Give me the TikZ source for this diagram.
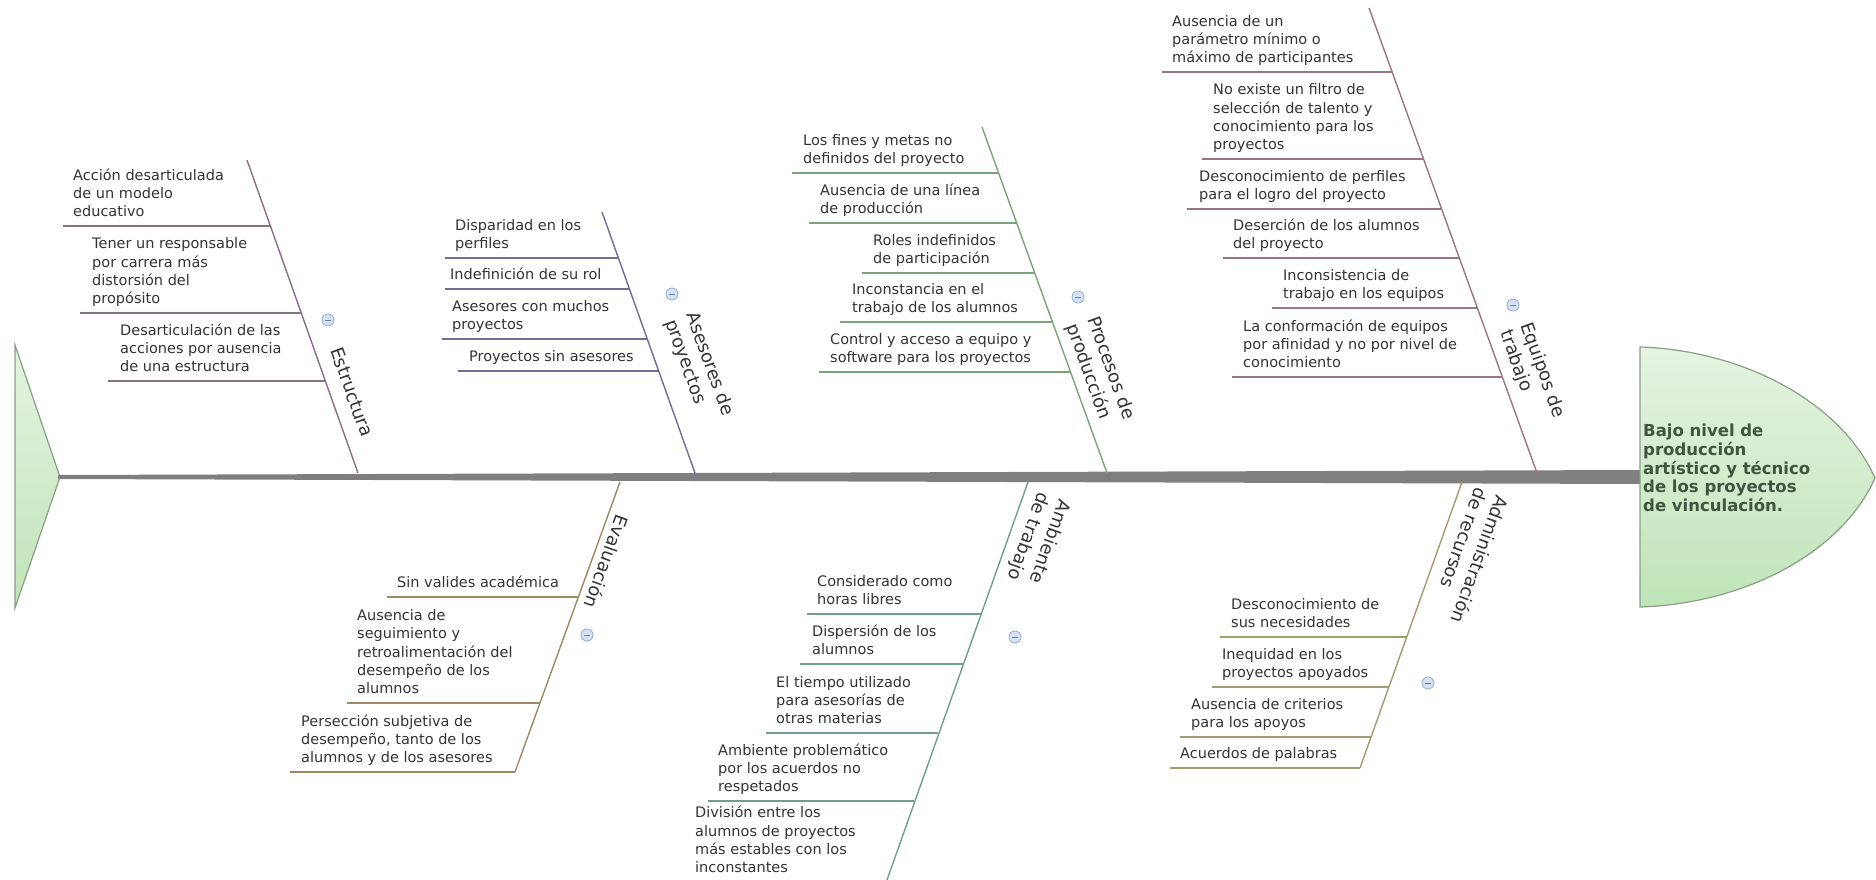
\documentclass[tikz,border=0pt]{standalone}
\usepackage{fontspec}
\setmainfont{DejaVu Sans}
\definecolor{cEst}{HTML}{8A7086}
\definecolor{cAse}{HTML}{6E6E98}
\definecolor{cPro}{HTML}{7BA57B}
\definecolor{cEqu}{HTML}{9A7589}
\definecolor{cEva}{HTML}{9C8B62}
\definecolor{cAmb}{HTML}{6FA08F}
\definecolor{cAdm}{HTML}{A39C6E}
\definecolor{txt}{HTML}{333333}
\definecolor{headtxt}{HTML}{3F553F}
\definecolor{spinecol}{HTML}{7F7F7F}
\definecolor{gTop}{HTML}{E4F4E0}
\definecolor{gBot}{HTML}{BFE4B8}
\definecolor{gEdge}{HTML}{8A9E88}
\definecolor{icFill}{HTML}{D6E2F4}
\definecolor{icEdge}{HTML}{9DB2D6}
\colorlet{bc}{cEst}
\tikzset{
  cause/.style={inner sep=0pt, align=left, text=txt,
    font=\fontsize{14.5}{18.3}\selectfont, execute at end node=\strut},
  bone/.style={line width=1.4pt, draw=bc},
  subl/.style={line width=1.3pt, draw=bc},
  cat/.style={inner sep=0pt, align=left, text=txt,
    font=\fontsize{18}{22}\selectfont},
  fold/.style={circle, minimum size=12pt, inner sep=0pt, fill=icFill, draw=icEdge, line width=0.9pt},
  foldminus/.style={draw=icEdge!70!black, line width=0.9pt},
  headtext/.style={inner sep=0pt, align=left, text=headtxt,
    font=\fontsize{16.5}{18.75}\selectfont\bfseries, execute at begin node=\strut}
}
\newcommand\fbcause[6]{%
  \node[cause, anchor=south west] (#1) at (#2,#3-3.5) {#6};
  \draw[subl] (#4,#3) -- (#5,#3);
}
\newcommand\fbicon[3]{%
  \node[fold] (#1) at (#2,#3) {};
  \draw[foldminus] ([xshift=-3pt]#1.center) -- ([xshift=3pt]#1.center);
}
\begin{document}
\begin{tikzpicture}[x=1pt,y=-1pt]
\useasboundingbox (0,0) rectangle (1876,880);

% tail
\path[top color=gTop, bottom color=gBot, draw=gEdge, line width=1.2pt]
  (15,345) -- (60,477) -- (15,608) -- cycle;
% spine
\fill[spinecol] (58,475) -- (1641,470) -- (1641,484) -- (58,479) -- cycle;
% head
\path[top color=gTop, bottom color=gBot, draw=gEdge, line width=1.2pt]
  (1640,347) .. controls (1740,350) and (1840,400) .. (1875,478)
  .. controls (1840,556) and (1740,604) .. (1640,607) -- cycle;
\node[headtext, anchor=north west] (head) at (1643,424)
  {Bajo nivel de\\producción\\artístico y técnico\\de los proyectos\\de vinculación.};

% Estructura
\begin{scope}
\colorlet{bc}{cEst}
\coordinate (estT) at (247,160); \coordinate (estB) at (358,473);
\draw[bone] (estT) -- (estB);
\fbcause{es1}{73}{226}{63}{270.2}{Acción desarticulada\\de un modelo\\educativo}
\fbcause{es2}{92}{313}{80}{300.9}{Tener un responsable\\por carrera más\\distorsión del\\propósito}
\fbcause{es3}{120}{381}{108}{324.8}{Desarticulación de las\\acciones por ausencia\\de una estructura}
\node[cat, rotate=-70.2] (lEst) at (352,392) {Estructura};
\fbicon{iEst}{328}{320}
\end{scope}

% Asesores
\begin{scope}
\colorlet{bc}{cAse}
\coordinate (aseT) at (602,212); \coordinate (aseB) at (695,473);
\draw[bone] (aseT) -- (aseB);
\fbcause{as1}{455}{258}{445}{618.4}{Disparidad en los\\perfiles}
\fbcause{as2}{450}{289}{445}{629.4}{Indefinición de su rol}
\fbcause{as3}{452}{339}{442}{647.3}{Asesores con muchos\\proyectos}
\fbcause{as4}{469}{371}{458}{658.7}{Proyectos sin asesores}
\node[cat, rotate=-70.2] (lAse) at (699,368) {Asesores de\\proyectos};
\fbicon{iAse}{672}{294}
\end{scope}

% Procesos
\begin{scope}
\colorlet{bc}{cPro}
\coordinate (proT) at (982,127); \coordinate (proB) at (1107,473);
\draw[bone] (proT) -- (proB);
\fbcause{pr1}{803}{173}{792}{998.6}{Los fines y metas no\\definidos del proyecto}
\fbcause{pr2}{820}{223}{809}{1016.7}{Ausencia de una línea\\de producción}
\fbcause{pr3}{873}{273}{862}{1034.7}{Roles indefinidos\\de participación}
\fbcause{pr4}{852}{322}{840}{1052.5}{Inconstancia en el\\trabajo de los alumnos}
\fbcause{pr5}{830}{372}{819}{1070.5}{Control y acceso a equipo y\\software para los proyectos}
\node[cat, rotate=-70.2] (lPro) at (1100,372) {Procesos de\\producción};
\fbicon{iPro}{1078}{297}
\end{scope}

% Equipos
\begin{scope}
\colorlet{bc}{cEqu}
\coordinate (equT) at (1369,8); \coordinate (equB) at (1537,473);
\draw[bone] (equT) -- (equB);
\fbcause{eq1}{1172}{72}{1162}{1392.1}{Ausencia de un\\parámetro mínimo o\\máximo de participantes}
\fbcause{eq2}{1213}{159}{1202}{1423.6}{No existe un filtro de\\selección de talento y\\conocimiento para los\\proyectos}
\fbcause{eq3}{1199}{209}{1187}{1441.6}{Desconocimiento de perfiles\\para el logro del proyecto}
\fbcause{eq4}{1233}{258}{1223}{1459.3}{Deserción de los alumnos\\del proyecto}
\fbcause{eq5}{1283}{308}{1272}{1477.4}{Inconsistencia de\\trabajo en los equipos}
\fbcause{eq6}{1243}{377}{1232}{1502.3}{La conformación de equipos\\por afinidad y no por nivel de\\conocimiento}
\node[cat, rotate=-70.2] (lEqu) at (1532,374) {Equipos de\\trabajo};
\fbicon{iEqu}{1513}{305}
\end{scope}

% Evaluacion
\begin{scope}
\colorlet{bc}{cEva}
\coordinate (evaT) at (620,482); \coordinate (evaB) at (515,772);
\draw[bone] (evaT) -- (evaB);
\fbcause{ev1}{397}{597}{387}{578.4}{Sin valides académica}
\fbcause{ev2}{357}{703}{347}{540}{Ausencia de\\seguimiento y\\retroalimentación del\\desempeño de los\\alumnos}
\fbcause{ev3}{301}{772}{290}{515}{Persección subjetiva de\\desempeño, tanto de los\\alumnos y de los asesores}
\node[cat, rotate=-109.8] (lEva) at (607,562) {Evaluación};
\fbicon{iEva}{587}{635}
\end{scope}

% Ambiente
\begin{scope}
\colorlet{bc}{cAmb}
\coordinate (ambT) at (1028,482); \coordinate (ambB) at (887,880);
\draw[bone] (ambT) -- (ambB);
\fbcause{am1}{817}{614}{807}{980.9}{Considerado como\\horas libres}
\fbcause{am2}{812}{664}{800}{963}{Dispersión de los\\alumnos}
\fbcause{am3}{776}{733}{766}{938.4}{El tiempo utilizado\\para asesorías de\\otras materias}
\fbcause{am4}{718}{801}{708}{914.1}{Ambiente problemático\\por los acuerdos no\\respetados}
\node[cause, anchor=south west] (am5) at (695,878.5) {División entre los\\alumnos de proyectos\\más estables con los\\inconstantes};
\node[cat, rotate=-109.8] (lAmb) at (1038,540) {Ambiente\\de trabajo};
\fbicon{iAmb}{1015}{637}
\end{scope}

% Administracion
\begin{scope}
\colorlet{bc}{cAdm}
\coordinate (admT) at (1462,482); \coordinate (admB) at (1360,768);
\draw[bone] (admT) -- (admB);
\fbcause{ad1}{1231}{637}{1220}{1406.7}{Desconocimiento de\\sus necesidades}
\fbcause{ad2}{1222}{687}{1212}{1388.9}{Inequidad en los\\proyectos apoyados}
\fbcause{ad3}{1191}{737}{1180}{1371.1}{Ausencia de criterios\\para los apoyos}
\fbcause{ad4}{1180}{768}{1170}{1360}{Acuerdos de palabras}
\node[cat, rotate=-109.8] (lAdm) at (1470,556) {Administración\\de recursos};
\fbicon{iAdm}{1428}{683}
\end{scope}
\end{tikzpicture}
\end{document}
